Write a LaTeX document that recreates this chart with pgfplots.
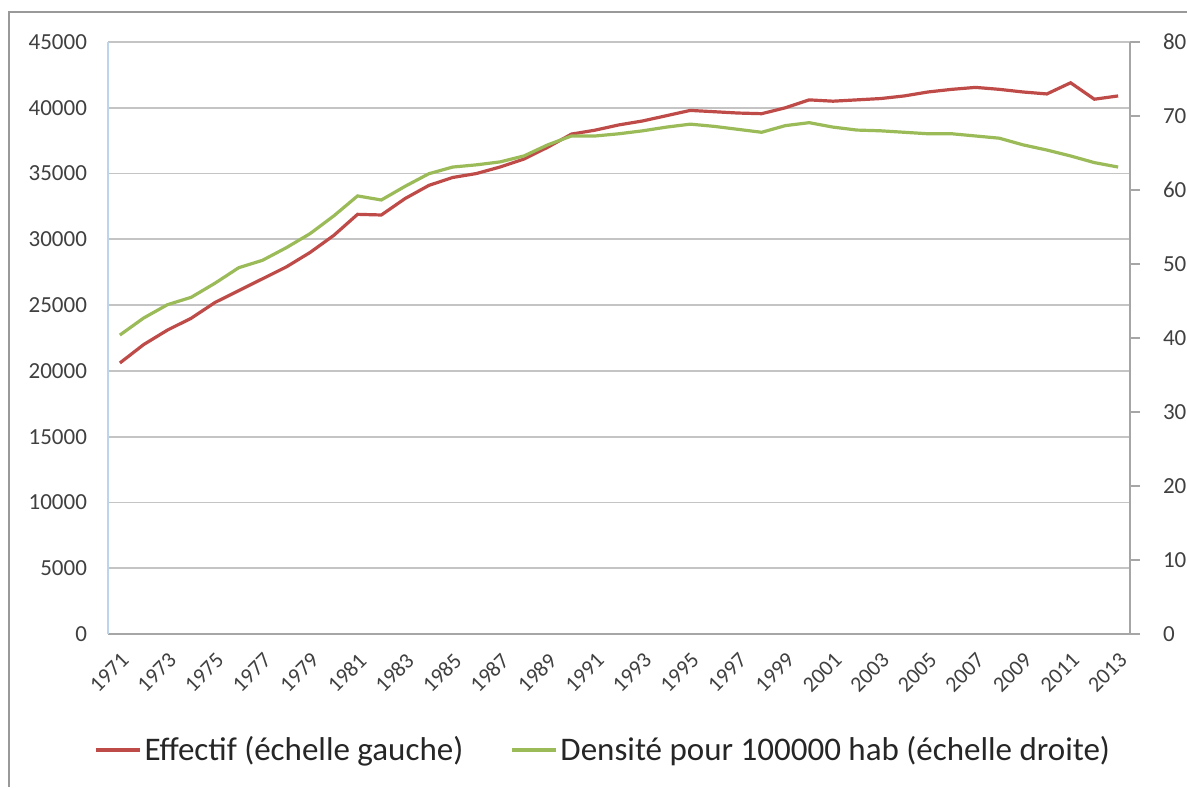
\documentclass[border=0pt]{standalone}
\usepackage{pgfplots}
\pgfplotsset{compat=1.18}
\usepackage{fontspec}
\setmainfont{Carlito}
\definecolor{redline}{HTML}{BE4B48}
\definecolor{greenline}{HTML}{9BBB59}
\definecolor{gridgray}{HTML}{C4C4C4}
\definecolor{axblue}{HTML}{BCD5EA}
\definecolor{ticktext}{HTML}{404040}
\definecolor{legtext}{HTML}{262626}
\begin{document}
\begin{tikzpicture}
\useasboundingbox (0,0) rectangle (593.5pt,393.5pt);
\draw[color=gray!80, line width=0.9pt] (4.5pt,0pt) -- (4.5pt,387.5pt) -- (593.5pt,387.5pt);
\pgfplotsset{
  common/.style={
    at={(54pt,76.5pt)}, anchor=south west,
    scale only axis, width=511pt, height=296pt,
    xmin=1970.5, xmax=2013.5,
    scaled y ticks=false,
    /pgf/number format/assume math mode=true,
    /pgf/number format/1000 sep={},
    tick label style={font=\fontsize{11.5}{13}\selectfont, color=ticktext},
  }
}
\begin{axis}[common,
  ymin=0, ymax=45000, ytick={0,5000,...,45000},
  xtick={1971,1973,...,2013},
  ymajorgrids, grid style={color=gridgray, line width=0.9pt},
  axis x line*=bottom, axis y line*=left,
  x axis line style={color=gray!70, line width=0.9pt},
  y axis line style={color=axblue, line width=1pt},
  major tick length=0pt,
  xticklabel style={font=\fontsize{11}{12}\selectfont, xshift=3pt, yshift=-11pt, rotate=45, anchor=east, inner sep=0.5pt},
  yticklabel style={xshift=-7pt},
]
\addplot[color=redline, line width=1.6pt] coordinates {
(1971,20600) (1972,22000) (1973,23100) (1974,24000) (1975,25200)
(1976,26100) (1977,27000) (1978,27900) (1979,29000) (1980,30300)
(1981,31900) (1982,31850) (1983,33100) (1984,34100) (1985,34700)
(1986,35000) (1987,35500) (1988,36100) (1989,37000) (1990,38000)
(1991,38300) (1992,38700) (1993,39000) (1994,39400) (1995,39800)
(1996,39700) (1997,39600) (1998,39550) (1999,40000) (2000,40600)
(2001,40500) (2002,40600) (2003,40700) (2004,40900) (2005,41200)
(2006,41400) (2007,41550) (2008,41400) (2009,41200) (2010,41050)
(2011,41900) (2012,40650) (2013,40900)
};
\end{axis}
\begin{axis}[common,
  ymin=0, ymax=80, ytick={0,10,...,80},
  xtick=\empty,
  axis x line=none, axis y line*=right,
  y axis line style={color=gray!70, line width=0.9pt},
  ytick style={color=gray!70, line width=0.8pt},
  major tick length=5pt, tick align=outside,
  yticklabel style={xshift=8pt},
  legend columns=2,
  legend style={draw=none, fill=none, at={(0.485,-0.196)}, anchor=center,
    font=\fontsize{16.5}{19}\selectfont, text=legtext,
    /tikz/every even column/.append style={column sep=22pt},
    nodes={inner sep=1.5pt}},
  legend image code/.code={\draw[#1] (0pt,0pt) -- (22pt,0pt);},
]
\addlegendimage{color=redline, line width=1.6pt}
\addlegendentry{Effectif (échelle gauche)}
\addplot[color=greenline, line width=1.6pt] coordinates {
(1971,40.4) (1972,42.7) (1973,44.5) (1974,45.5) (1975,47.4)
(1976,49.5) (1977,50.5) (1978,52.2) (1979,54.1) (1980,56.5)
(1981,59.2) (1982,58.65) (1983,60.5) (1984,62.2) (1985,63.1)
(1986,63.4) (1987,63.8) (1988,64.6) (1989,66.1) (1990,67.3)
(1991,67.3) (1992,67.6) (1993,68.0) (1994,68.5) (1995,68.9)
(1996,68.6) (1997,68.2) (1998,67.8) (1999,68.7) (2000,69.1)
(2001,68.5) (2002,68.1) (2003,68.0) (2004,67.8) (2005,67.6)
(2006,67.6) (2007,67.3) (2008,67.0) (2009,66.1) (2010,65.4)
(2011,64.6) (2012,63.7) (2013,63.1)
};
\addlegendentry{Densité pour 100000 hab (échelle droite)}
\end{axis}
\end{tikzpicture}
\end{document}
